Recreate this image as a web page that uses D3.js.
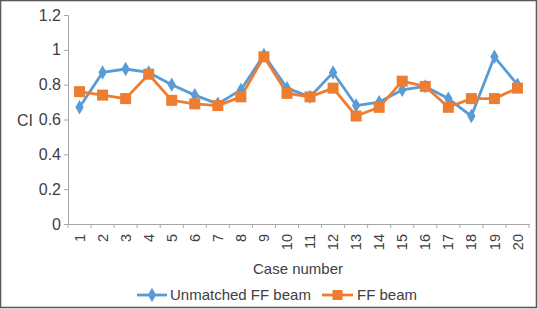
<!DOCTYPE html>
<html><head><meta charset="utf-8">
<script src="https://cdn.jsdelivr.net/npm/d3@7"></script>
<style>
body{margin:0;background:#fff;}
text{font-family:"Liberation Sans",Arial,sans-serif;fill:#404040;}
</style></head><body>
<svg id="c" width="538" height="309"></svg>
<script>
const cases = ["1","2","3","4","5","6","7","8","9","10","11","12","13","14","15","16","17","18","19","20"];
const unmatched = [0.67,0.87,0.89,0.87,0.80,0.74,0.69,0.77,0.97,0.78,0.73,0.87,0.68,0.70,0.77,0.79,0.72,0.62,0.96,0.80];
const ffBeam = [0.76,0.74,0.72,0.86,0.71,0.69,0.68,0.73,0.96,0.75,0.73,0.78,0.62,0.67,0.82,0.79,0.67,0.72,0.72,0.78];
const yTicks = [0,0.2,0.4,0.6,0.8,1,1.2];
const seriesNames = ["Unmatched FF beam","FF beam"];
const colors = ["#5B9BD5","#ED7D31"];

const svg = d3.select("#c");
const x = d3.scaleBand().domain(cases).range([68,529]);
const y = d3.scaleLinear().domain([0,1.2]).range([224,15]);
const axisColor = "#A6A6A6";

// border
svg.append("rect").attr("x",0.5).attr("y",0.5).attr("width",536).attr("height",307)
  .attr("fill","none").attr("stroke","#5a5a5a").attr("stroke-width",1.6);

// y axis
const ya = svg.append("g").attr("transform","translate(68,0)")
  .call(d3.axisLeft(y).tickValues(yTicks).tickSize(4).tickPadding(3).tickFormat(d=>String(d)));
ya.select(".domain").attr("stroke",axisColor);
ya.selectAll(".tick line").attr("stroke",axisColor);
ya.selectAll("text").attr("font-size",16).attr("fill","#404040").style("font-family","Liberation Sans, Arial, sans-serif");

// x axis
const xa = svg.append("g").attr("transform","translate(0,224)")
  .call(d3.axisBottom(x).tickSize(0).tickSizeOuter(0));
xa.select(".domain").attr("stroke",axisColor);
xa.selectAll(".tick line").remove();
const bounds = cases.map(c=>x(c)).concat([x.range()[1]]);
xa.selectAll(".bt").data(bounds).enter().append("line")
  .attr("x1",d=>d).attr("x2",d=>d).attr("y1",0).attr("y2",4).attr("stroke",axisColor);
xa.selectAll(".tick text")
  .attr("transform","rotate(-90)")
  .attr("x",-10).attr("y",0).attr("dy","0.35em")
  .attr("text-anchor","end")
  .attr("font-size",14.5).attr("fill","#404040").style("font-family","Liberation Sans, Arial, sans-serif");

// axis titles
svg.append("text").attr("x",298).attr("y",274).attr("text-anchor","middle").attr("font-size",15).text("Case number");
svg.append("text").attr("x",17).attr("y",126).attr("font-size",16).text("CI");

// lines
const allSeries = [unmatched, ffBeam];
const line = d3.line().x((d,i)=>x(cases[i])+x.bandwidth()/2).y(d=>y(d));
allSeries.forEach((s,k)=>{
  svg.append("path").datum(s).attr("d",line).attr("fill","none")
    .attr("stroke",colors[k]).attr("stroke-width",2.8).attr("stroke-linejoin","round");
});
const diamond = d3.symbol().type(d3.symbolDiamond).size(60);
svg.selectAll(".m0").data(unmatched).enter().append("path")
  .attr("d",diamond).attr("fill",colors[0])
  .attr("transform",(d,i)=>`translate(${x(cases[i])+x.bandwidth()/2},${y(d)})`);
svg.selectAll(".m1").data(ffBeam).enter().append("rect")
  .attr("x",(d,i)=>x(cases[i])+x.bandwidth()/2-5.5).attr("y",d=>y(d)-5.5)
  .attr("width",11).attr("height",11).attr("fill",colors[1]);

// legend
const lg = [{x1:137,x2:167,tx:170},{x1:322,x2:353,tx:357}];
lg.forEach((l,k)=>{
  svg.append("line").attr("x1",l.x1).attr("x2",l.x2).attr("y1",295).attr("y2",295)
    .attr("stroke",colors[k]).attr("stroke-width",2.8);
  const cx=(l.x1+l.x2)/2;
  if(k===0) svg.append("path").attr("d",diamond).attr("fill",colors[0]).attr("transform",`translate(${cx},295)`);
  else svg.append("rect").attr("x",cx-5).attr("y",290).attr("width",10).attr("height",10).attr("fill",colors[1]);
  svg.append("text").attr("x",l.tx).attr("y",300).attr("font-size",15).text(seriesNames[k]);
});
</script></body></html>
